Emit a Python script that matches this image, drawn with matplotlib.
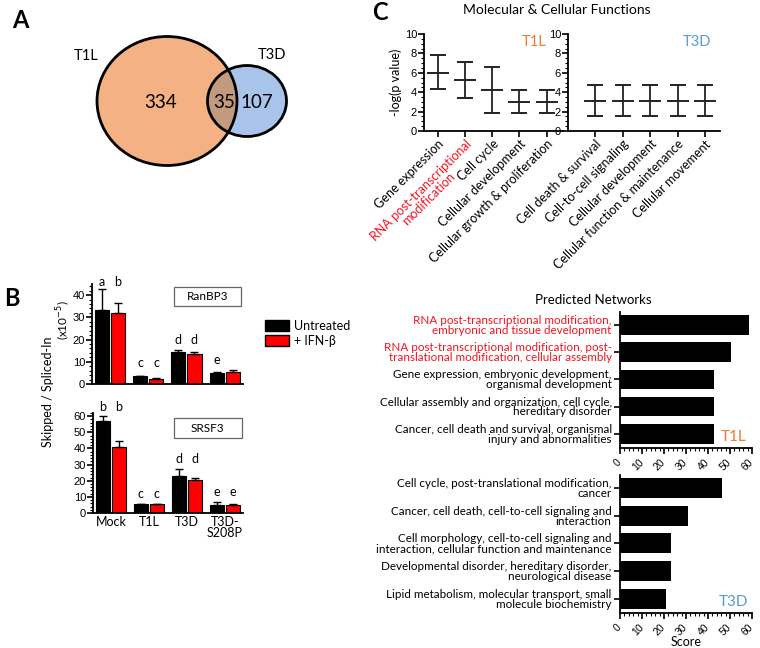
import matplotlib
matplotlib.use('Agg')
import matplotlib.pyplot as plt
from matplotlib.patches import Ellipse, Patch, Rectangle
from matplotlib.ticker import MultipleLocator
import numpy as np

plt.rcParams['font.family'] = ['Lato', 'DejaVu Sans']
plt.rcParams['axes.linewidth'] = 1.3

# ---------------- data ----------------
# A: venn
venn_names = ['T1L', 'T3D']
venn_counts = [334, 35, 107]   # T1L only, shared, T3D only

# B: skipped / spliced-in (x10^-5)
groups = ['Mock', 'T1L', 'T3D', 'T3D-\nS208P']
ranbp3_untr = [33.3, 3.4, 14.3, 4.8]
ranbp3_untr_err = [9.4, 0.3, 1.1, 0.6]
ranbp3_ifn = [31.8, 2.4, 13.4, 5.5]
ranbp3_ifn_err = [4.5, 0.3, 0.8, 0.9]
ranbp3_letters = [['a', 'b'], ['c', 'c'], ['d', 'd'], ['e', '']]
srsf3_untr = [56.9, 5.3, 23.2, 4.7]
srsf3_untr_err = [3.5, 0.2, 4.1, 2.1]
srsf3_ifn = [41.1, 5.5, 20.3, 4.9]
srsf3_ifn_err = [3.5, 0.3, 1.5, 0.6]
srsf3_letters = [['b', 'b'], ['c', 'c'], ['d', 'd'], ['e', 'e']]

# C: molecular & cellular functions, -log(p value)
t1l_funcs = ['Gene expression', 'RNA post-transcriptional\nmodification', 'Cell cycle',
             'Cellular development', 'Cellular growth & proliferation']
t1l_mid = [6.0, 5.3, 4.2, 3.0, 3.0]
t1l_lo = [4.3, 3.4, 1.9, 1.9, 1.9]
t1l_hi = [7.8, 7.1, 6.6, 4.2, 4.2]
t3d_funcs = ['Cell death & survival', 'Cell-to-cell signaling', 'Cellular development',
             'Cellular function & maintenance', 'Cellular movement']
t3d_mid = [3.1, 3.1, 3.1, 3.1, 3.1]
t3d_lo = [1.5, 1.5, 1.5, 1.5, 1.5]
t3d_hi = [4.7, 4.7, 4.7, 4.7, 4.7]

# C: predicted networks, score
t1l_nets = ['RNA post-transcriptional modification,\nembryonic and tissue development',
            'RNA post-transcriptional modification, post-\ntranslational modification, cellular assembly',
            'Gene expression, embryonic development,\norganismal development',
            'Cellular assembly and organization, cell cycle,\nhereditary disorder',
            'Cancer, cell death and survival, organismal\ninjury and abnormalities']
t1l_scores = [58.5, 50.5, 42.5, 42.5, 42.5]
t3d_nets = ['Cell cycle, post-translational modification,\ncancer',
            'Cancer, cell death, cell-to-cell signaling and\ninteraction',
            'Cell morphology, cell-to-cell signaling and\ninteraction, cellular function and maintenance',
            'Developmental disorder, hereditary disorder,\nneurological disease',
            'Lipid metabolism, molecular transport, small\nmolecule biochemistry']
t3d_scores = [46.5, 31.1, 23.2, 23.2, 21.0]

ORANGE = '#ED7D31'
BLUE = '#5B9BD5'
RED = '#F0141E'
NUMFONT = 'Liberation Sans'

W, H = 760, 648
fig = plt.figure(figsize=(W / 100, H / 100), dpi=100)


def px(l, t, r, b):
    return fig.add_axes([l / W, 1 - b / H, (r - l) / W, (b - t) / H])


# overlay for the venn and free text, pixel coordinates
ov = fig.add_axes([0, 0, 1, 1])
ov.set_xlim(0, W)
ov.set_ylim(H, 0)
ov.axis('off')

# ---------------- A ----------------
ov.text(20, 20, 'A', fontsize=17, fontweight='bold', ha='center', va='center')
e1 = Ellipse((167, 101), 140, 129, facecolor='#F4B183', edgecolor='none')
e2 = Ellipse((247, 101), 79, 71, facecolor='#A9C4EB', edgecolor='none')
ov.add_patch(e1)
ov.add_patch(e2)
e3 = Ellipse((167, 101), 140, 129, facecolor='#C29A7E', edgecolor='none')
ov.add_patch(e3)
e3.set_clip_path(e2)
ov.add_patch(Ellipse((167, 101), 140, 129, facecolor='none', edgecolor='black', lw=2))
ov.add_patch(Ellipse((247, 101), 79, 71, facecolor='none', edgecolor='black', lw=2))
ov.text(86, 56, venn_names[0], fontsize=10.5, ha='center', va='center')
ov.text(272, 55, venn_names[1], fontsize=10.5, ha='center', va='center')
for xx, c in zip([161, 224, 257], venn_counts):
    ov.text(xx, 103, str(c), fontsize=13.5, ha='center', va='center')

# ---------------- B ----------------
ov.text(12, 298, 'B', fontsize=17, fontweight='bold', ha='center', va='center')
ov.text(48, 392, 'Skipped / Spliced-In', fontsize=9, rotation=90, ha='center', va='center')
ov.text(64, 320, '(x10$^{-5}$)', fontsize=8.5, rotation=90, ha='center', va='center')

x = np.arange(len(groups))
bw = 0.37
off = 0.21


def bar_panel(ax, untr, untr_err, ifn, ifn_err, letters, ymax, name, lety, box):
    ax.bar(x - off, untr, bw, color='black', edgecolor='black', lw=0.8)
    ax.bar(x + off, ifn, bw, color='#FF0000', edgecolor='black', lw=0.8)
    ax.errorbar(x - off, untr, yerr=[np.zeros(4), untr_err], fmt='none', ecolor='black',
                elinewidth=1, capsize=3, capthick=1)
    ax.errorbar(x + off, ifn, yerr=[np.zeros(4), ifn_err], fmt='none', ecolor='black',
                elinewidth=1, capsize=3, capthick=1)
    for i, (l1, l2) in enumerate(letters):
        ax.text(x[i] - off, lety[i], l1, ha='center', va='center', fontsize=9, clip_on=False)
        ax.text(x[i] + off, lety[i], l2, ha='center', va='center', fontsize=9, clip_on=False)
    ax.set_xlim(-0.47, 3.48)
    ax.set_ylim(0, ymax)
    ax.yaxis.set_major_locator(MultipleLocator(10))
    ax.yaxis.set_minor_locator(MultipleLocator(2))
    ax.tick_params(axis='y', which='major', length=4, width=1.2, labelsize=8, pad=1)
    ax.tick_params(axis='y', which='minor', length=2, width=0.8)
    ax.tick_params(axis='x', length=0)
    for lab in ax.get_yticklabels():
        lab.set_fontfamily(NUMFONT)
    for s in ['top', 'right']:
        ax.spines[s].set_visible(False)
    bx0, by0, bx1, by1 = box
    ax.add_patch(Rectangle((bx0, by0), bx1 - bx0, by1 - by0, transform=ax.transAxes,
                           facecolor='white', edgecolor='#666666', lw=0.9, clip_on=False))
    ax.text((bx0 + bx1) / 2, (by0 + by1) / 2, name, transform=ax.transAxes,
            ha='center', va='center', fontsize=8.5)


axB1 = px(92, 284, 243, 384)
bar_panel(axB1, ranbp3_untr, ranbp3_untr_err, ranbp3_ifn, ranbp3_ifn_err, ranbp3_letters,
          45, 'RanBP3', [46, 9.4, 19.6, 10.6], (0.543, 0.78, 0.987, 0.97))
axB1.set_xticks(x)
axB1.set_xticklabels([])

axB2 = px(93, 413, 243, 513)
bar_panel(axB2, srsf3_untr, srsf3_untr_err, srsf3_ifn, srsf3_ifn_err, srsf3_letters,
          62, 'SRSF3', [65.7, 11.9, 33.5, 13.1], (0.54, 0.75, 0.99, 0.95))
axB2.set_xticks(x)
axB2.set_xticklabels(groups, fontsize=9, linespacing=0.9)
axB2.tick_params(axis='x', pad=2)

fig.legend(handles=[Patch(facecolor='black', edgecolor='black', label='Untreated'),
                    Patch(facecolor='#FF0000', edgecolor='black', label='+ IFN-β')],
           loc='upper left', bbox_to_anchor=(265 / W, 1 - 320 / H), frameon=False,
           fontsize=9, handlelength=1.9, handleheight=1.0, handletextpad=0.4,
           labelspacing=0.25, borderpad=0, borderaxespad=0)

# ---------------- C: functions ----------------
ov.text(380, 13, 'C', fontsize=17, fontweight='bold', ha='center', va='center')
ov.text(557, 10, 'Molecular & Cellular Functions', fontsize=10, ha='center', va='center')
ov.text(593, 300, 'Predicted Networks', fontsize=9.5, ha='center', va='center')


def func_panel(ax, names, mid, lo, hi, xl, label, color, lx, red_idx):
    xs = np.arange(len(names))
    mid = np.array(mid)
    ax.errorbar(xs, mid, yerr=[mid - np.array(lo), np.array(hi) - mid], fmt='_',
                color='#222222', ms=16, mew=1.4, elinewidth=1.3, capsize=5.5, capthick=1.3)
    ax.set_xlim(*xl)
    ax.set_ylim(0, 10)
    ax.yaxis.set_major_locator(MultipleLocator(2))
    ax.yaxis.set_minor_locator(MultipleLocator(0.5))
    ax.tick_params(axis='y', which='major', length=4, width=1.2, labelsize=8, pad=1)
    ax.tick_params(axis='y', which='minor', length=2, width=0.8)
    ax.tick_params(axis='x', length=4, width=1.2, pad=1)
    for lab in ax.get_yticklabels():
        lab.set_fontfamily(NUMFONT)
    ax.set_xticks(xs)
    ax.set_xticklabels(names, rotation=45, ha='right', rotation_mode='anchor', fontsize=9,
                       multialignment='center', linespacing=0.95)
    for i in red_idx:
        ax.get_xticklabels()[i].set_color(RED)
    for s in ['top', 'right']:
        ax.spines[s].set_visible(False)
    ax.text(lx, 0.92, label, transform=ax.transAxes, color=color, fontsize=10.5,
            ha='center', va='center')


axC1 = px(424, 34, 563, 131)
func_panel(axC1, t1l_funcs, t1l_mid, t1l_lo, t1l_hi, (-0.5, 4.6), 'T1L', ORANGE, 0.79, [1])
axC1.set_ylabel('-log(p value)', fontsize=9, labelpad=2)
axC2 = px(568, 34, 720, 131)
func_panel(axC2, t3d_funcs, t3d_mid, t3d_lo, t3d_hi, (-1.0, 4.55), 'T3D', BLUE, 0.85, [])


# ---------------- C: networks ----------------
def net_panel(ax, names, scores, label, color, red_idx):
    ys = np.arange(len(names))
    ax.barh(ys, scores, 0.72, color='black')
    ax.set_ylim(4.52, -0.47)
    ax.set_xlim(0, 60)
    ax.set_yticks(ys)
    ax.set_yticklabels(names, fontsize=8.4, multialignment='right', linespacing=0.88)
    for i in red_idx:
        ax.get_yticklabels()[i].set_color(RED)
    ax.xaxis.set_major_locator(MultipleLocator(10))
    ax.xaxis.set_minor_locator(MultipleLocator(2))
    ax.tick_params(axis='y', length=4, width=1.2, pad=2)
    ax.tick_params(axis='x', which='major', length=4, width=1.2, labelsize=7.5, pad=5)
    ax.tick_params(axis='x', which='minor', length=2, width=0.8)
    for lab in ax.get_xticklabels():
        lab.set_fontfamily(NUMFONT)
        lab.set_rotation(45)
        lab.set_ha('right')
        lab.set_va('center')
        lab.set_rotation_mode('anchor')
    for s in ['top', 'right']:
        ax.spines[s].set_visible(False)
    ax.text(0.86, 0.08, label, transform=ax.transAxes, color=color, fontsize=11,
            ha='center', va='center')


axN1 = px(620, 312, 752, 448)
net_panel(axN1, t1l_nets, t1l_scores, 'T1L', ORANGE, [0, 1])
axN2 = px(620, 475, 752, 613)
net_panel(axN2, t3d_nets, t3d_scores, 'T3D', BLUE, [])
axN2.set_xlabel('Score', fontsize=9)
axN2.xaxis.set_label_coords(0.5, -0.17)

fig.savefig('out.png', dpi=100)
